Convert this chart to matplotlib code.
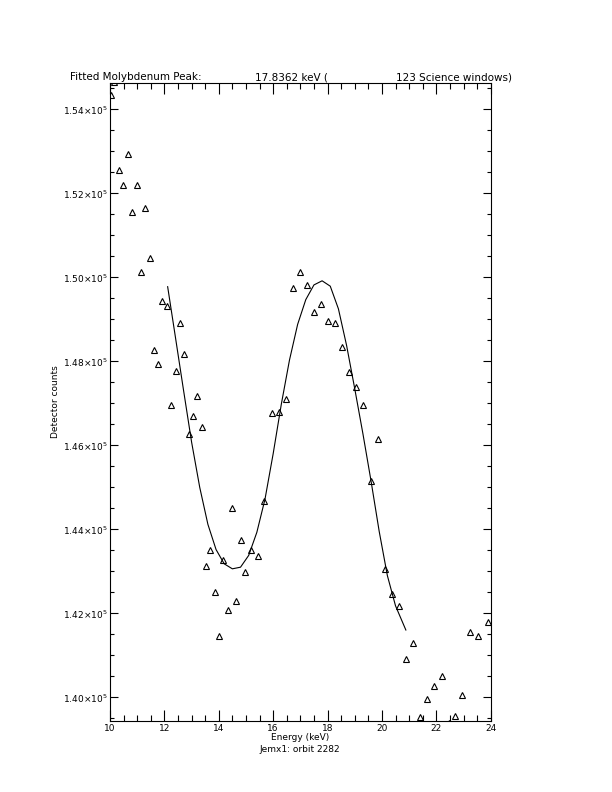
import matplotlib
matplotlib.use('Agg')
import matplotlib.pyplot as plt
from matplotlib.ticker import MultipleLocator

# measured points (energy in keV, detector counts)
energy = [10.03, 10.15, 10.34, 10.49, 10.66, 10.82, 10.98, 11.14, 11.30, 11.46,
          11.61, 11.78, 11.92, 12.10, 12.24, 12.43, 12.58, 12.73, 12.90, 13.06,
          13.21, 13.37, 13.53, 13.69, 13.86, 14.02, 14.16, 14.33, 14.49, 14.65,
          14.81, 14.97, 15.18, 15.43, 15.68, 15.96, 16.22, 16.48, 16.73, 17.00,
          17.26, 17.52, 17.77, 18.03, 18.29, 18.55, 18.80, 19.06, 19.32, 19.59,
          19.85, 20.11, 20.37, 20.63, 20.88, 21.16, 21.41, 21.67, 21.93, 22.20,
          22.46, 22.70, 22.95, 23.23, 23.52, 23.90]
counts = [154330, 154650, 152555, 152198, 152943, 151555, 152198, 150126, 151650, 150467,
          148276, 147943, 149436, 149324, 146967, 147776, 148905, 148181, 146269, 146697,
          147181, 146443, 143126, 143514, 142514, 141466, 143269, 142085, 144514, 142300,
          143752, 142990, 143514, 143357, 144681, 146776, 146800, 147109, 149752, 150126,
          149824, 149181, 149371, 148967, 148919, 148340, 147745, 147395, 146959, 145150,
          146157, 143047, 142459, 142181, 140904, 141285, 139523, 139959, 140269, 140507,
          139390, 139547, 140062, 141547, 141459, 141793]

# fitted curve
fit_energy = [12.12, 12.4, 12.7, 13.0, 13.3, 13.6, 13.9, 14.2, 14.5, 14.8,
              15.1, 15.4, 15.7, 16.0, 16.3, 16.6, 16.9, 17.2, 17.5, 17.8,
              18.1, 18.4, 18.7, 19.0, 19.3, 19.6, 19.9, 20.2, 20.5, 20.88]
fit_counts = [149778, 148600, 147330, 146080, 145000, 144120, 143520, 143180, 143061, 143100,
              143380, 143930, 144720, 145800, 146980, 148030, 148880, 149470, 149820, 149918,
              149790, 149250, 148380, 147350, 146280, 145150, 143950, 142900, 142180, 141604]

ytick_values = [140000, 142000, 144000, 146000, 148000, 150000, 152000, 154000]
ytick_labels = ['1.40×10$^{5}$', '1.42×10$^{5}$', '1.44×10$^{5}$', '1.46×10$^{5}$',
                '1.48×10$^{5}$', '1.50×10$^{5}$', '1.52×10$^{5}$', '1.54×10$^{5}$']
xtick_values = [10, 12, 14, 16, 18, 20, 22, 24]

plt.rcParams['font.family'] = 'DejaVu Sans'
plt.rcParams['mathtext.fontset'] = 'dejavusans'

fig = plt.figure(figsize=(6.12, 7.92), dpi=100)
ax = fig.add_axes([110 / 612, 1 - 720.5 / 792, 380.7 / 612, 637.2 / 792])

ax.plot(energy, counts, linestyle='none', marker='^', markersize=5,
        markerfacecolor='none', markeredgecolor='black', markeredgewidth=0.8)
ax.plot(fit_energy, fit_counts, color='black', linewidth=0.8)

ax.set_xlim(10, 24)
ax.set_ylim(139450, 154620)
ax.set_xticks(xtick_values)
ax.set_xticklabels([str(v) for v in xtick_values])
ax.xaxis.set_minor_locator(MultipleLocator(0.5))
ax.set_yticks(ytick_values)
ax.set_yticklabels(ytick_labels)
ax.yaxis.set_minor_locator(MultipleLocator(500))

ax.tick_params(axis='x', which='major', direction='in', length=7.9, width=0.8,
               top=True, labelsize=6.5, pad=2.5)
ax.tick_params(axis='x', which='minor', direction='in', length=4, width=0.8, top=True)
ax.tick_params(axis='y', which='major', direction='in', length=5.5, width=0.8,
               right=True, labelsize=6.5, pad=1.5)
ax.tick_params(axis='y', which='minor', direction='in', length=2.9, width=0.8, right=True)
for s in ax.spines.values():
    s.set_linewidth(0.8)

# title pieces
ty = 1 - 80 / 792
fig.text(70 / 612, ty, 'Fitted Molybdenum Peak:', fontsize=7.5, va='baseline')
fig.text(255 / 612, ty, '17.8362 keV (', fontsize=7.5, va='baseline')
fig.text(396 / 612, ty, '123 Science windows)', fontsize=7.5, va='baseline')

fig.text(300 / 612, 1 - 738 / 792, 'Energy (keV)', fontsize=6.5, ha='center', va='center')
fig.text(300 / 612, 1 - 749 / 792, 'Jemx1: orbit 2282', fontsize=6.5, ha='center', va='center')
fig.text(56 / 612, 1 - 402 / 792, 'Detector counts', fontsize=6.5, ha='center', va='center',
         rotation=90)

fig.savefig('out.png', dpi=100)
